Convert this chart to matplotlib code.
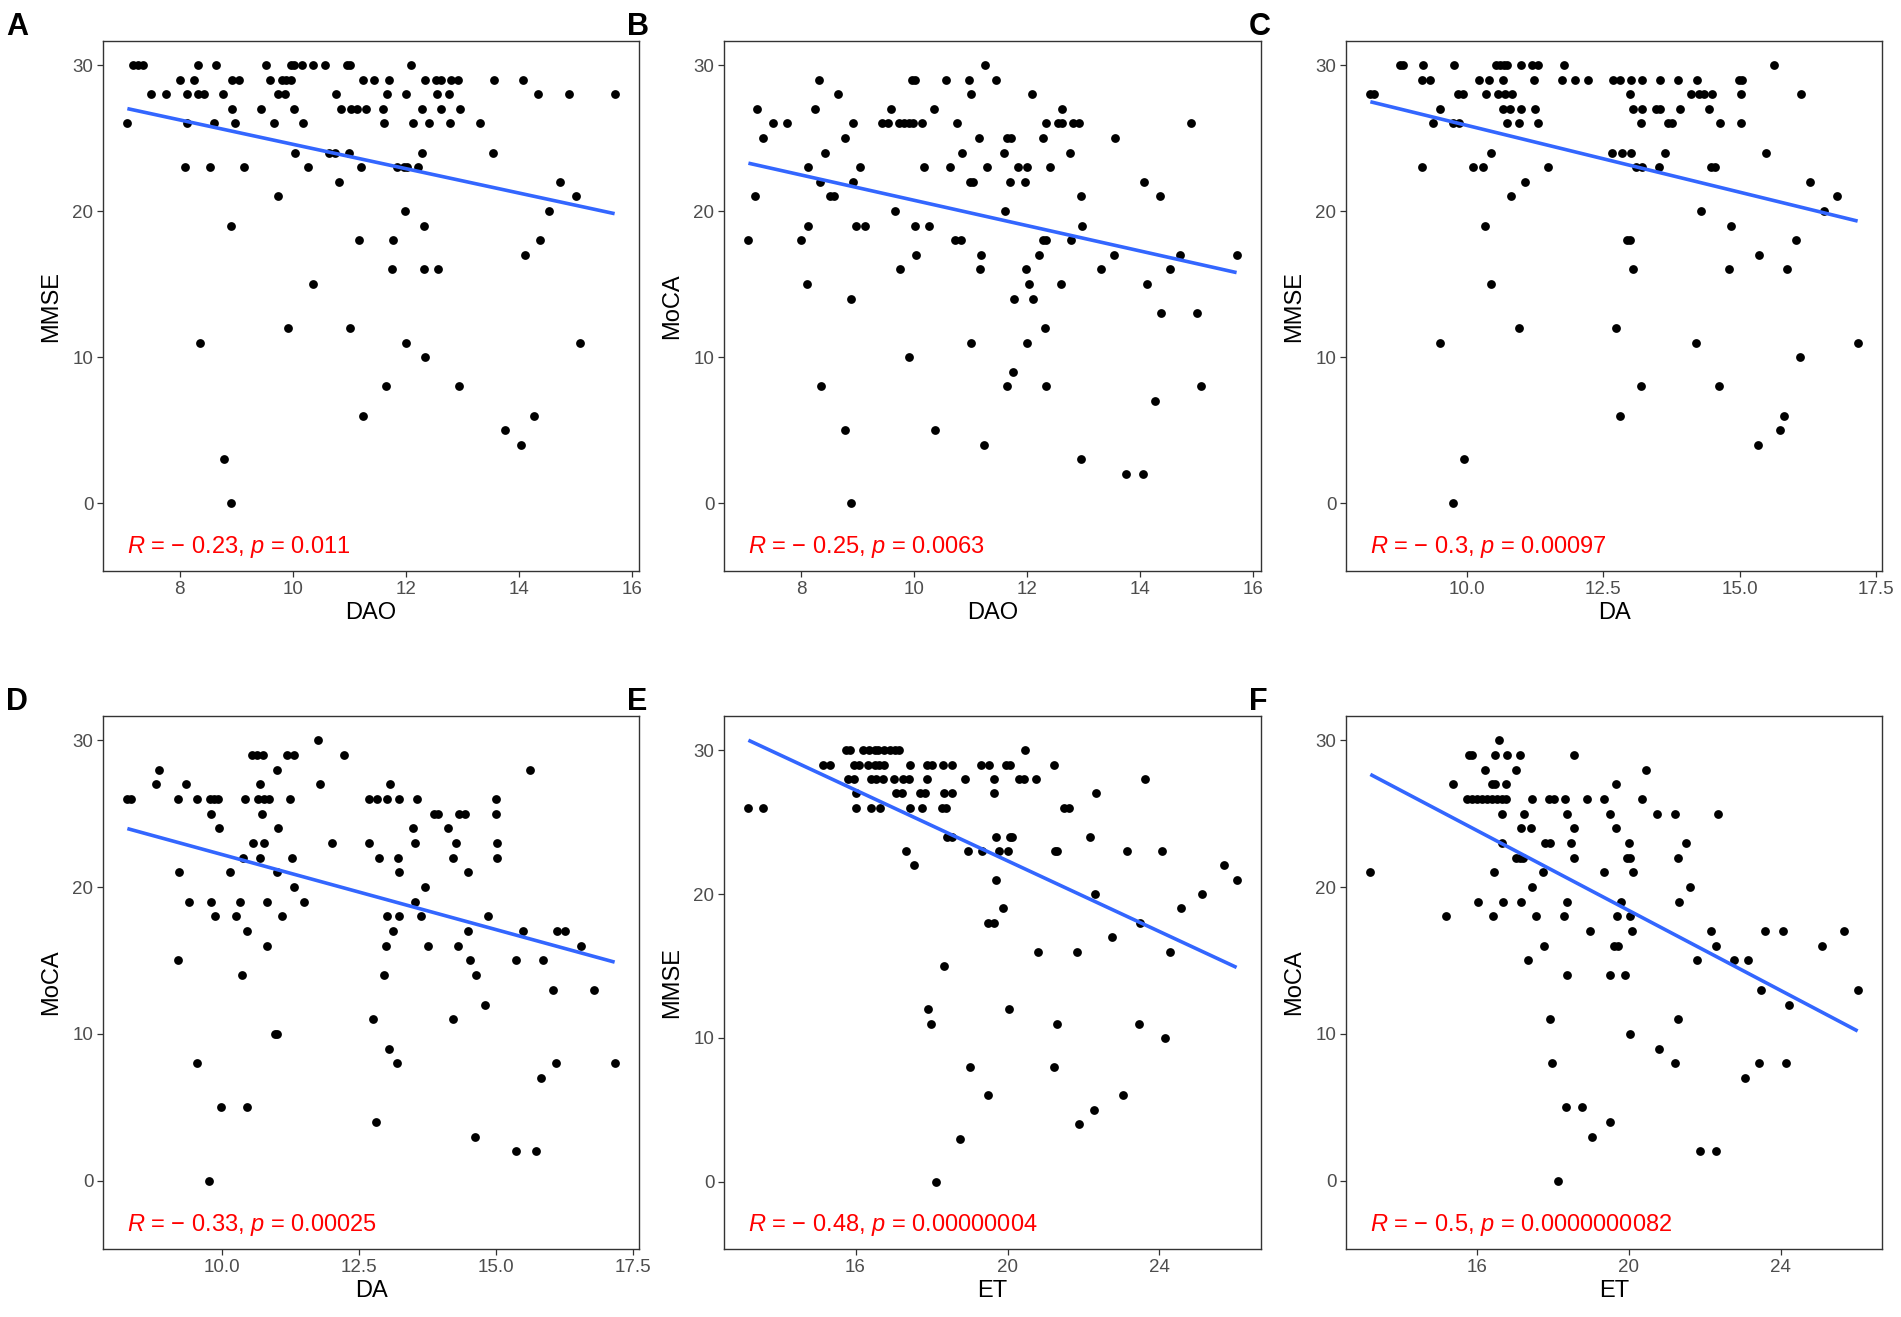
import numpy as np
import matplotlib
matplotlib.use("Agg")
import matplotlib.pyplot as plt

plt.rcParams['font.family'] = ['Liberation Sans', 'DejaVu Sans']
plt.rcParams['mathtext.fontset'] = 'custom'
plt.rcParams['mathtext.rm'] = 'Liberation Sans'
plt.rcParams['mathtext.it'] = 'Liberation Sans:italic'

# (score, [biomarker values]), one row per score level
mmse_dao = [
    (30, [7.17, 7.25, 7.34, 8.32, 8.64, 9.53, 9.97, 10.03, 10.16, 10.35, 10.57, 10.96, 11.01, 12.09]),
    (29, [8.0, 8.25, 8.92, 9.05, 9.59, 9.80, 9.88, 9.96, 11.25, 11.43, 11.70, 12.35, 12.53, 12.62, 12.80, 12.92, 13.57, 14.07]),
    (28, [7.49, 7.76, 8.12, 8.32, 8.43, 8.77, 9.73, 9.86, 10.76, 11.67, 12.0, 12.56, 12.77, 14.35, 14.90, 15.70]),
    (27, [8.92, 9.44, 10.02, 10.86, 11.03, 11.14, 11.29, 11.60, 12.28, 12.63, 12.97]),
    (26, [7.07, 8.12, 8.60, 8.97, 9.67, 10.18, 11.61, 12.12, 12.42, 12.79, 13.31]),
    (24, [10.04, 10.64, 10.74, 11.0, 12.29, 13.55]),
    (23, [8.09, 8.53, 9.14, 10.27, 11.20, 11.84, 11.97, 12.03, 12.22]),
    (22, [10.82, 14.73]),
    (21, [9.73, 15.01]),
    (20, [11.98, 14.54]),
    (19, [8.90, 12.33]),
    (18, [11.17, 11.78, 14.38]),
    (17, [14.12]),
    (16, [11.75, 12.32, 12.58]),
    (15, [10.36]),
    (12, [9.91, 11.01]),
    (11, [8.36, 12.0, 15.08]),
    (10, [12.35]),
    (8, [11.65, 12.95]),
    (6, [11.24, 14.27]),
    (5, [13.75]),
    (4, [14.05]),
    (3, [8.79]),
    (0, [8.90]),
]

moca_dao = [
    (30, [11.25]),
    (29, [8.31, 9.95, 10.02, 10.56, 10.96, 11.44]),
    (28, [8.64, 11.01, 12.08]),
    (27, [7.22, 8.24, 9.58, 10.34, 12.62]),
    (26, [7.49, 7.75, 8.92, 9.42, 9.53, 9.73, 9.82, 9.91, 9.97, 10.14, 10.75, 12.34, 12.54, 12.62, 12.81, 12.91, 14.90]),
    (25, [7.32, 8.77, 11.14, 11.65, 11.72, 12.28, 13.56]),
    (24, [8.42, 10.85, 11.58, 12.76]),
    (23, [8.12, 9.04, 10.17, 10.64, 11.28, 11.84, 12.0, 12.41]),
    (22, [8.33, 8.92, 10.99, 11.04, 11.70, 11.96, 14.07]),
    (21, [7.18, 8.51, 8.58, 12.96, 14.36]),
    (20, [9.66, 11.61]),
    (19, [8.12, 8.96, 9.13, 10.02, 10.26, 12.97]),
    (18, [7.06, 8.0, 10.72, 10.82, 12.28, 12.34, 12.78]),
    (17, [10.03, 11.19, 12.21, 13.54, 14.71, 15.71]),
    (16, [9.74, 11.16, 11.97, 13.31, 14.53]),
    (15, [8.09, 12.04, 12.59, 14.13]),
    (14, [8.88, 11.77, 12.11]),
    (13, [14.37, 15.01]),
    (12, [12.31]),
    (11, [11.01, 12.0]),
    (10, [9.91]),
    (9, [11.74]),
    (8, [8.35, 11.65, 12.34, 15.08]),
    (7, [14.26]),
    (5, [8.78, 10.36]),
    (4, [11.24]),
    (3, [12.96]),
    (2, [13.75, 14.05]),
    (0, [8.88]),
]

mmse_da = [
    (30, [8.78, 8.84, 9.20, 9.77, 10.54, 10.61, 10.69, 10.75, 10.99, 11.19, 11.31, 11.78, 15.63]),
    (29, [9.19, 9.34, 10.22, 10.41, 10.67, 11.23, 11.75, 11.98, 12.22, 12.68, 12.81, 13.01, 13.22, 13.55, 13.87, 14.22, 14.98, 15.04]),
    (28, [8.24, 8.31, 9.84, 9.93, 10.36, 10.57, 10.71, 10.84, 12.99, 14.11, 14.25, 14.34, 14.49, 15.02, 16.12]),
    (27, [9.52, 10.67, 10.80, 11.0, 11.25, 13.05, 13.22, 13.46, 13.54, 13.90, 14.43]),
    (26, [9.38, 9.75, 9.86, 10.74, 10.97, 11.31, 13.20, 13.68, 13.77, 14.64, 15.02]),
    (24, [10.44, 12.66, 12.85, 13.02, 13.63, 15.49]),
    (23, [9.19, 10.12, 10.31, 11.50, 13.11, 13.22, 13.52, 14.48, 14.54]),
    (22, [11.07, 16.28]),
    (21, [10.81, 16.78]),
    (20, [14.30, 16.54]),
    (19, [10.34, 14.85]),
    (18, [12.94, 13.0, 16.04]),
    (17, [15.36]),
    (16, [13.04, 14.81, 15.86]),
    (15, [10.45]),
    (12, [10.96, 12.74]),
    (11, [9.51, 14.20, 17.16]),
    (10, [16.10]),
    (8, [13.19, 14.62]),
    (6, [12.81, 15.82]),
    (5, [15.73]),
    (4, [15.34]),
    (3, [9.96]),
    (0, [9.75]),
]

moca_da = [
    (30, [11.76]),
    (29, [10.55, 10.63, 10.74, 11.19, 11.32, 12.23]),
    (28, [8.85, 11.0, 15.63]),
    (27, [8.80, 9.35, 10.69, 11.79, 13.07]),
    (26, [8.27, 8.34, 9.20, 9.54, 9.78, 9.85, 9.93, 10.42, 10.66, 10.76, 10.86, 11.24, 12.69, 12.83, 13.01, 13.24, 13.56, 15.01]),
    (25, [9.80, 10.72, 13.87, 13.94, 14.32, 14.44, 15.0]),
    (24, [9.94, 11.02, 13.48, 14.12]),
    (23, [10.57, 10.76, 12.0, 12.68, 13.53, 14.27, 15.03]),
    (22, [10.38, 10.69, 11.27, 12.87, 13.21, 14.22, 15.03]),
    (21, [9.21, 10.14, 11.0, 13.23, 14.50]),
    (20, [11.32, 13.70]),
    (19, [9.39, 9.79, 10.33, 10.82, 11.50, 13.53]),
    (18, [9.87, 10.25, 11.09, 13.01, 13.23, 13.63, 14.85]),
    (17, [10.45, 13.12, 14.50, 15.50, 16.12, 16.27]),
    (16, [10.82, 13.0, 13.77, 14.31, 16.55]),
    (15, [9.20, 14.53, 15.37, 15.86]),
    (14, [10.36, 12.96, 14.64]),
    (13, [16.05, 16.79]),
    (12, [14.81]),
    (11, [12.75, 14.21]),
    (10, [10.96, 11.01]),
    (9, [13.05]),
    (8, [9.54, 13.20, 16.10, 17.17]),
    (7, [15.83]),
    (5, [9.98, 10.45]),
    (4, [12.82]),
    (3, [14.62]),
    (2, [15.36, 15.74]),
    (0, [9.76]),
]

mmse_et = [
    (30, [15.75, 15.86, 16.2, 16.35, 16.5, 16.6, 16.75, 16.9, 17.05, 17.15, 20.46]),
    (29, [15.14, 15.32, 15.95, 16.08, 16.32, 16.50, 16.63, 16.76, 17.44, 17.88, 18.01, 18.31, 18.55, 19.30, 19.51, 19.96, 20.06, 21.22]),
    (28, [15.81, 15.95, 16.40, 16.55, 16.72, 17.02, 17.24, 17.42, 17.88, 18.87, 19.64, 20.29, 20.43, 20.74, 23.62]),
    (27, [16.0, 17.06, 17.21, 17.69, 17.82, 18.34, 18.55, 19.64, 22.32]),
    (26, [13.18, 13.56, 16.0, 16.41, 16.64, 17.44, 17.75, 18.28, 18.38, 21.48, 21.63]),
    (24, [18.42, 18.55, 19.69, 20.06, 20.13, 22.17]),
    (23, [17.32, 18.95, 19.34, 19.78, 20.02, 21.25, 21.31, 23.15, 24.07]),
    (22, [17.53, 25.69]),
    (21, [19.69, 26.03]),
    (20, [22.31, 25.11]),
    (19, [19.89, 24.57]),
    (18, [19.49, 19.64, 23.49]),
    (17, [22.75]),
    (16, [20.81, 21.82, 24.27]),
    (15, [18.32]),
    (12, [17.91, 20.05]),
    (11, [17.98, 21.29, 23.45]),
    (10, [24.15]),
    (8, [19.02, 21.22]),
    (6, [19.49, 23.04]),
    (5, [22.28]),
    (4, [21.88]),
    (3, [18.75]),
    (0, [18.13]),
]

moca_et = [
    (30, [16.56]),
    (29, [15.79, 15.87, 16.47, 16.79, 17.12, 18.55]),
    (28, [16.21, 17.01, 20.46]),
    (27, [15.36, 16.38, 16.46, 16.75, 19.65]),
    (26, [15.73, 15.86, 15.99, 16.12, 16.25, 16.38, 16.51, 16.64, 16.77, 17.45, 17.88, 18.02, 18.32, 18.88, 19.33, 20.34]),
    (25, [16.64, 17.24, 18.37, 19.50, 20.74, 21.22, 22.34]),
    (24, [17.14, 17.42, 18.55, 19.65]),
    (23, [16.64, 17.79, 17.91, 18.46, 20.0, 21.50]),
    (22, [17.02, 17.12, 17.21, 18.56, 19.94, 20.03, 21.28]),
    (21, [13.18, 16.44, 17.73, 19.35, 20.11]),
    (20, [17.45, 21.62]),
    (19, [16.01, 16.67, 17.16, 18.36, 19.78, 21.32]),
    (18, [15.17, 16.42, 17.54, 18.29, 19.69, 20.04]),
    (17, [18.97, 20.09, 22.15, 23.59, 24.06, 25.68]),
    (16, [17.76, 19.61, 19.71, 22.30, 25.09]),
    (15, [17.33, 21.80, 22.77, 23.14]),
    (14, [18.37, 19.50, 19.89]),
    (13, [23.48, 26.03]),
    (12, [24.23]),
    (11, [17.91, 21.30]),
    (10, [20.04]),
    (9, [20.79]),
    (8, [17.97, 21.22, 23.44, 24.14]),
    (7, [23.05]),
    (5, [18.33, 18.75]),
    (4, [19.50]),
    (3, [19.03]),
    (2, [21.88, 22.30]),
    (0, [18.14]),
]

panel_letters = ['A', 'B', 'C', 'D', 'E', 'F']
panel_data = [mmse_dao, moca_dao, mmse_da, moca_da, mmse_et, moca_et]
x_names = ['DAO', 'DAO', 'DA', 'DA', 'ET', 'ET']
y_names = ['MMSE', 'MoCA', 'MMSE', 'MoCA', 'MMSE', 'MoCA']
r_texts = ['\u2212 0.23', '\u2212 0.25', '\u2212 0.3', '\u2212 0.33', '\u2212 0.48', '\u2212 0.5']
p_texts = ['0.011', '0.0063', '0.00097', '0.00025', '0.00000004', '0.0000000082']
x_ticks = [[8, 10, 12, 14, 16], [8, 10, 12, 14, 16],
           [10.0, 12.5, 15.0, 17.5], [10.0, 12.5, 15.0, 17.5],
           [16, 20, 24], [16, 20, 24]]
x_ticklabels = [['8', '10', '12', '14', '16'], ['8', '10', '12', '14', '16'],
                ['10.0', '12.5', '15.0', '17.5'], ['10.0', '12.5', '15.0', '17.5'],
                ['16', '20', '24'], ['16', '20', '24']]

W, H = 1901, 1317
fig = plt.figure(figsize=(W / 100, H / 100), dpi=100)

lefts = [103, 724, 1346]
tops = [41, 716]
widths = [536, 537, 536]
heights = [530, 533]

label_y = -3  # where the R/p annotation sits

for i, rows in enumerate(panel_data):
    r, c = divmod(i, 3)
    ax = fig.add_axes([lefts[c] / W, 1 - (tops[r] + heights[r]) / H,
                       widths[c] / W, heights[r] / H])

    x = np.concatenate([np.array(v, float) for s, v in rows])
    y = np.concatenate([np.full(len(v), s, float) for s, v in rows])

    slope, icpt = np.polyfit(x, y, 1)
    xl = np.array([x.min(), x.max()])
    yl = slope * xl + icpt

    ax.scatter(x, y, s=40, color='black', linewidths=0, zorder=2)
    ax.plot(xl, yl, color='#3366FF', lw=2.6, zorder=3, solid_capstyle='butt')
    ax.text(x.min(), label_y, '$R$ = %s, $p$ = %s' % (r_texts[i], p_texts[i]),
            color='#FF0000', fontsize=17, ha='left', va='center')

    xlo, xhi = x.min(), x.max()
    xpad = (xhi - xlo) * 0.05
    ax.set_xlim(xlo - xpad, xhi + xpad)
    ylo = label_y
    yhi = max(y.max(), yl.max())
    ypad = (yhi - ylo) * 0.05
    ax.set_ylim(ylo - ypad, yhi + ypad)

    ax.set_yticks([0, 10, 20, 30])
    ax.set_xticks(x_ticks[i])
    ax.set_xticklabels(x_ticklabels[i])
    ax.tick_params(direction='out', length=4, width=0.9, color='#333333',
                   labelcolor='#4D4D4D', labelsize=13.5, pad=3)
    for sp in ax.spines.values():
        sp.set_color('#333333')
        sp.set_linewidth(1.0)
    ax.set_xlabel(x_names[i], fontsize=17, labelpad=3)
    ax.set_ylabel(y_names[i], fontsize=17, labelpad=7)

    fig.text((lefts[c] - 97) / W, 1 - (tops[r] - 29) / H, panel_letters[i],
             fontsize=22, fontweight='bold', ha='left', va='top')

fig.savefig('out.png', dpi=100)
